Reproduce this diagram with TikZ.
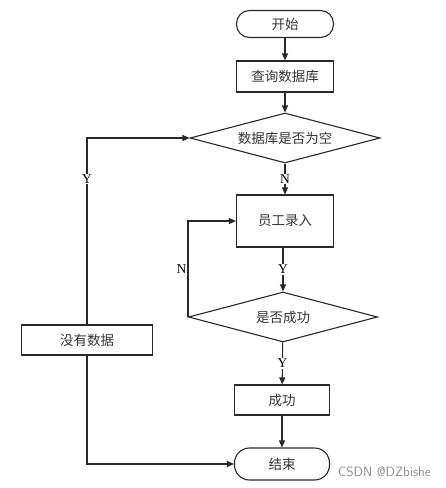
\documentclass[tikz,border=0pt]{standalone}
\usepackage{fontspec}
\newfontfamily\cjk{Noto Sans CJK SC}
\setmainfont{Liberation Serif}
\usetikzlibrary{arrows.meta,shapes.geometric}
\begin{document}
\begin{tikzpicture}[x=1pt,y=-1pt,
  line width=1.1pt, draw={rgb,255:red,40;green,40;blue,40},
  txt/.style={font=\cjk\fontsize{13.5}{15}\selectfont, text=black!80},
  box/.style={draw, rectangle, minimum width=97pt, minimum height=31pt, inner sep=0pt, txt},
  term/.style={draw, rectangle, rounded corners=13pt, inner sep=0pt, txt},
  dec/.style={draw, diamond, aspect=3.8, inner sep=0pt, txt},
  lab/.style={fill=white, inner sep=1pt, font=\fontsize{13.5}{14}\selectfont, text=black},
  arr/.style={-{Triangle[length=7pt,width=6pt]}}
]
\useasboundingbox (0,0) rectangle (446,488);
\node[term, minimum width=97pt, minimum height=27pt] (start) at (285,24) {开始};
\node[box] (query) at (285,76.5) {查询数据库};
\node[dec, minimum width=190pt, minimum height=50pt] (d1) at (285,138) {数据库是否为空};
\node[box, minimum height=52pt] (input) at (285,221) {员工录入};
\node[dec, minimum width=189pt, minimum height=50pt] (d2) at (283,317) {是否成功};
\node[box, minimum width=95pt, minimum height=30pt] (ok) at (282,400) {成功};
\node[term, minimum width=95pt, minimum height=32pt, rounded corners=15pt] (end) at (282,464) {结束};
\node[box, minimum width=131pt, minimum height=30pt] (nodata) at (87,340) {没有数据};

\draw[arr] (start) -- (query);
\draw[arr] (query) -- (d1);
\draw[arr] (d1) -- node[lab] (n1) {N} (input);
\draw[arr] (input.south -| d2.north) -- node[lab] (y1) {Y} (d2);
\draw[arr] (d2) -- node[lab] (y2) {Y} (ok);
\draw[arr] (ok) -- (end);
\draw[arr] (d2.west) -- ++(0,-95) node[pos=0.5, left, inner sep=1pt, font=\fontsize{13.5}{14}\selectfont] (n2) {N} |- (input.west);
\draw[arr] (nodata.north) |- node[lab, pos=0.39] (y3) {Y} (d1.west);
\draw[arr] (nodata.south) |- (end.west);
\node[font=\sffamily\fontsize{13.5}{14}\selectfont, text=black!45, anchor=west] (wm) at (334,472) {CSDN @DZbishe};
\end{tikzpicture}
\end{document}
